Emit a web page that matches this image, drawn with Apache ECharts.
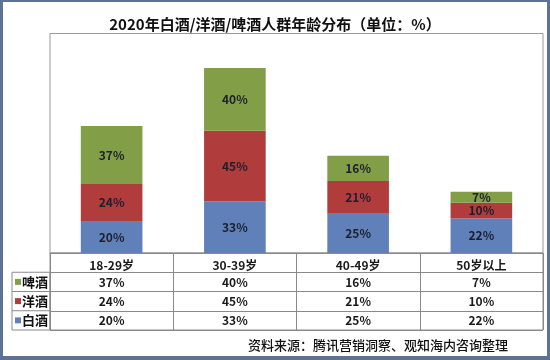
<!DOCTYPE html>
<html>
<head>
<meta charset="utf-8">
<script src="https://cdn.jsdelivr.net/npm/echarts@6/dist/echarts.min.js"></script>
<style>
html,body{margin:0;padding:0;background:#fff;}
#wrap{position:relative;width:550px;height:360px;}
#chart{width:550px;height:360px;}
#frame{position:absolute;left:0;top:0;width:550px;height:360px;box-sizing:border-box;border-style:solid;border-color:#5d7396;border-width:2px 3px 4px 3px;pointer-events:none;}
</style>
</head>
<body>
<div id="wrap"><div id="chart"></div><div id="frame"></div></div>
<script>
var categories = ['18-29岁', '30-39岁', '40-49岁', '50岁以上'];
var baijiu = [20, 33, 25, 22];   // 白酒
var yangjiu = [24, 45, 21, 10];  // 洋酒
var pijiu = [37, 40, 16, 7];     // 啤酒
var rowNames = ['白酒', '洋酒', '啤酒', ''];
var colors = { '白酒': '#5f80b8', '洋酒': '#b03c3c', '啤酒': '#829e46' };

var FONT = '"Noto Sans CJK SC", "Noto Sans", sans-serif';
var chart = echarts.init(document.getElementById('chart'));

function cells(values, row) {
  return values.map(function (v, i) { return [i, row, v]; });
}

function barSeries(name, data) {
  return {
    name: name, type: 'bar', stack: 'total', xAxisIndex: 0, yAxisIndex: 0,
    data: data, barWidth: '50%',
    itemStyle: { color: colors[name] },
    label: { show: true, position: 'inside', formatter: '{c}%', color: '#1c1f2e',
      fontFamily: FONT, fontSize: 12, fontWeight: 'bold' }
  };
}

function tableSeries(values, row) {
  return {
    type: 'custom', xAxisIndex: 1, yAxisIndex: 1, silent: true,
    data: cells(values, row),
    renderItem: function (params, api) {
      var pt = api.coord([api.value(0), api.value(1)]);
      return {
        type: 'text', x: pt[0], y: pt[1] + 0.5,
        style: { text: api.value(2) + '%', fill: '#1a1a1a', align: 'center', verticalAlign: 'middle',
          font: 'bold 12px ' + FONT }
      };
    }
  };
}

var option = {
  backgroundColor: '#fff',
  animation: false,
  title: {
    text: '2020年白酒/洋酒/啤酒人群年龄分布（单位：%）',
    left: 'center', top: 12,
    textStyle: { fontFamily: FONT, fontSize: 15, fontWeight: 'bold', color: '#111' }
  },
  grid: [
    { left: 50, right: 7, top: 33.5, bottom: 107, show: true, borderColor: '#999', borderWidth: 1 },
    { left: 50, right: 7, top: 253, bottom: 30, show: true, borderColor: '#8a8a8a', borderWidth: 1 }
  ],
  xAxis: [
    { type: 'category', gridIndex: 0, data: categories,
      axisLine: { show: true, lineStyle: { color: '#8a8a8a' } }, axisTick: { show: false },
      axisLabel: { margin: 6, fontFamily: FONT, fontSize: 12, fontWeight: 'bold', color: '#1a1a1a' } },
    { type: 'category', gridIndex: 1, data: categories,
      axisLine: { show: false }, axisTick: { show: false }, axisLabel: { show: false },
      splitLine: { show: true, interval: 0, lineStyle: { color: '#8a8a8a', width: 1 } } }
  ],
  yAxis: [
    { type: 'value', gridIndex: 0, min: 0, max: 140, show: false },
    { type: 'category', gridIndex: 1, data: rowNames,
      axisLine: { show: false }, axisTick: { show: false },
      splitLine: { show: true, interval: 0, lineStyle: { color: '#8a8a8a', width: 1 } },
      axisLabel: { margin: 2, interval: 0,
        formatter: function (v) {
          if (!v) return '';
          var key = v === '白酒' ? 'b' : (v === '洋酒' ? 'y' : 'p');
          return '{' + key + '|}{t|' + v + '}';
        },
        rich: {
          b: { width: 6, height: 6, backgroundColor: colors['白酒'] },
          y: { width: 6, height: 6, backgroundColor: colors['洋酒'] },
          p: { width: 6, height: 6, backgroundColor: colors['啤酒'] },
          t: { fontFamily: FONT, fontSize: 13, fontWeight: 'bold', color: '#111', padding: [0, 0, 0, 1] }
        } } }
  ],
  graphic: [
    { type: 'rect', shape: { x: 12, y: 272.25, width: 38, height: 57.75 },
      style: { fill: 'none', stroke: '#8a8a8a', lineWidth: 1 }, silent: true },
    { type: 'line', shape: { x1: 12, y1: 291.5, x2: 50, y2: 291.5 },
      style: { stroke: '#8a8a8a', lineWidth: 1 }, silent: true },
    { type: 'line', shape: { x1: 12, y1: 310.75, x2: 50, y2: 310.75 },
      style: { stroke: '#8a8a8a', lineWidth: 1 }, silent: true },
    { type: 'text', right: 42, top: 339,
      style: { text: '资料来源：腾讯营销洞察、观知海内咨询整理', fontFamily: FONT, fontSize: 13,
        fontWeight: 500, fill: '#111' }, silent: true }
  ],
  series: [
    barSeries('白酒', baijiu),
    barSeries('洋酒', yangjiu),
    barSeries('啤酒', pijiu),
    tableSeries(baijiu, 0),
    tableSeries(yangjiu, 1),
    tableSeries(pijiu, 2)
  ]
};
chart.setOption(option);
</script>
</body>
</html>
